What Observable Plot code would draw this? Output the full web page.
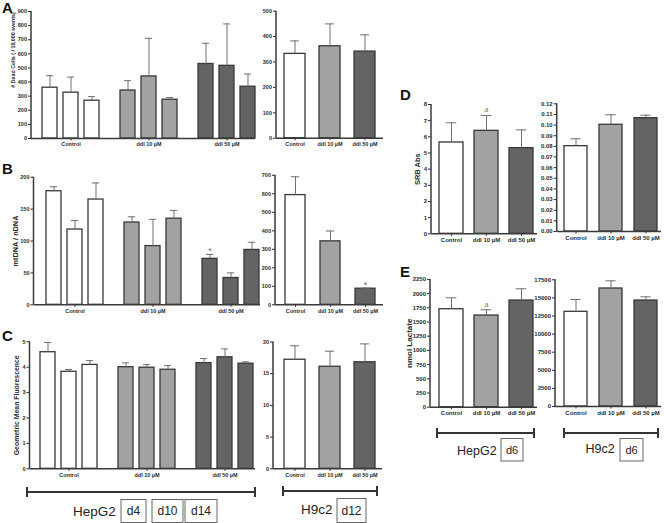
<!DOCTYPE html>
<html>
<head>
<meta charset="utf-8">
<script src="https://cdn.jsdelivr.net/npm/d3@7"></script>
<script src="https://cdn.jsdelivr.net/npm/@observablehq/plot@0.6"></script>
<style>
  html, body { margin: 0; padding: 0; background: #fff; }
  #fig { position: relative; width: 664px; height: 523px; overflow: hidden; background: #fff;
         font-family: "Liberation Sans", Arial, Helvetica, sans-serif; }
  .panel { position: absolute; }
  #deco { position: absolute; left: 0; top: 0; }
</style>
</head>
<body>
<div id="fig"></div>
<script>
// ---------- data ----------
const groups = ["Control", "ddI 10 µM", "ddI 50 µM"];
const hepg2Days = ["d4", "d10", "d14"];   // three bars per group in HepG2 (A–C)

// A: # dead cells (/10,000 events)
const deadHepG2Mean = [360, 325, 268, 340, 440, 275, 528, 515, 367];
const deadHepG2Sem  = [85, 110, 29, 70, 270, 15, 147, 297, 90];
const deadH9c2Mean  = [332, 362, 341];
const deadH9c2Sem   = [51, 88, 66];
const deadHepG2Ticks = [0, 100, 200, 300, 400, 500, 600, 700, 800, 900];
const deadH9c2Ticks  = [0, 100, 200, 300, 400, 500];

// B: mtDNA / nDNA
const mtHepG2Mean = [178, 118, 165, 129, 92, 135, 72, 42, 86];
const mtHepG2Sem  = [7, 14, 26, 9, 42, 13, 7, 8, 12];
const mtHepG2Sig  = ["", "", "", "", "", "", "*", "", ""];
const mtH9c2Mean  = [593, 343, 87];
const mtH9c2Sem   = [99, 56, 3];
const mtH9c2Sig   = ["", "", "*"];
const mtHepG2Ticks = [0, 50, 100, 150, 200];
const mtH9c2Ticks  = [0, 100, 200, 300, 400, 500, 600, 700];

// C: geometric mean fluorescence
const gmfHepG2Mean = [4.59, 3.82, 4.09, 4.00, 3.98, 3.90, 4.16, 4.39, 4.14];
const gmfHepG2Sem  = [0.38, 0.09, 0.17, 0.17, 0.12, 0.16, 0.18, 0.33, 0.07];
const gmfH9c2Mean  = [17.2, 16.1, 16.8];
const gmfH9c2Sem   = [2.2, 2.45, 2.9];
const gmfHepG2Ticks = [0, 1, 2, 3, 4, 5];
const gmfH9c2Ticks  = [0, 5, 10, 15, 20];

// D: SRB absorbance
const srbHepG2Mean = [5.65, 6.37, 5.30];
const srbHepG2Sem  = [1.22, 0.95, 1.13];
const srbHepG2Sig  = ["", "a", ""];
const srbH9c2Mean  = [0.0802, 0.1003, 0.1065];
const srbH9c2Sem   = [0.0069, 0.0094, 0.0028];
const srbHepG2Ticks = [0, 1, 2, 3, 4, 5, 6, 7, 8];
const srbH9c2Ticks  = [0, 0.01, 0.02, 0.03, 0.04, 0.05, 0.06, 0.07, 0.08, 0.09, 0.10, 0.11, 0.12];

// E: nmol lactate
const lacHepG2Mean = [1725, 1614, 1878];
const lacHepG2Sem  = [201, 101, 207];
const lacHepG2Sig  = ["", "a", ""];
const lacH9c2Mean  = [13080, 16300, 14640];
const lacH9c2Sem   = [1700, 1060, 510];
const lacHepG2Ticks = [0, 250, 500, 750, 1000, 1250, 1500, 1750, 2000, 2250];
const lacH9c2Ticks  = [0, 2500, 5000, 7500, 10000, 12500, 15000, 17500];

// ---------- drawing ----------
const FONT = "'Liberation Sans', Arial, Helvetica, sans-serif";
const fills = ["#ffffff", "#a2a2a2", "#646464"];
const fig = document.getElementById("fig");

function barPanel(p) {
  const reps = p.reps || 1;
  const rows = p.mean.map((m, i) => ({
    group: groups[Math.floor(i / reps)], rep: i % reps,
    mean: m, top: m + p.sem[i], sig: p.sig ? p.sig[i] : ""
  }));
  const repGap = p.repGap || 0;
  const gw = reps * p.barW + (reps - 1) * repGap;
  const gap = p.groupStep - gw;
  const span = p.rangeEnd - p.axisX;
  const leftover = span - (3 * gw + 2 * gap);
  const marginLeft = p.axisX - p.left;
  const marginRight = p.left + p.width - p.rangeEnd;
  const marginTop = p.yTop - p.top;
  const marginBottom = p.top + p.height - p.yBase;
  const pitch = p.barW + repGap;
  const fs = p.fs || 5.5;
  const marks = [
    Plot.axisY({ticks: p.ticks, tickSize: 3, tickPadding: 1.5, tickFormat: p.fmt || d3.format("d"), label: null, fontSize: fs}),
    Plot.axisX({tickSize: 2.5, tickPadding: 1.5, label: null, fontSize: fs})
  ];
  if (p.label) {
    marks.push(Plot.axisY({ticks: [], tickSize: 0, label: p.label, labelAnchor: "center",
      labelOffset: p.labelOffset, labelArrow: "none", fontSize: p.labelFs}));
  }
  for (let r = 0; r < reps; r++) {
    const sub = rows.filter(d => d.rep === r);
    const inL = r * pitch, inR = (reps - 1 - r) * pitch;
    const off = inL + p.barW / 2 - gw / 2;
    const capIn = (p.barW - p.capW) / 2;
    marks.push(
      Plot.barY(sub, {x: "group", y: "mean", fill: "group", stroke: "#383838", strokeWidth: 1.3,
        insetLeft: inL, insetRight: inR}),
      Plot.ruleX(sub, {x: "group", y1: "mean", y2: "top", dx: off, stroke: "#707070", strokeWidth: 1}),
      Plot.tickY(sub, {x: "group", y: "top", insetLeft: inL + capIn, insetRight: inR + capIn,
        stroke: "#707070", strokeWidth: 1}),
      Plot.text(sub.filter(d => d.sig === "*"), {x: "group", y: "top", text: "sig", dx: off, dy: -3,
        fontSize: 9, fill: "#666", fontWeight: "normal"}),
      Plot.text(sub.filter(d => d.sig === "a"), {x: "group", y: "top", text: "sig", dx: off, dy: -5.5,
        fontSize: 7, fill: "#777", fontStyle: "italic", fontWeight: "normal"})
    );
  }
  marks.push(Plot.ruleY([0], {stroke: "#3a3a3a", strokeWidth: 1.5}));

  const plot = Plot.plot({
    width: p.width, height: p.height,
    marginLeft, marginRight, marginTop, marginBottom,
    style: {background: "transparent", fontFamily: FONT, fontWeight: "bold", color: "#2a2a2a", overflow: "visible"},
    x: {domain: groups, paddingInner: gap / p.groupStep, paddingOuter: leftover / (2 * p.groupStep),
        align: (p.firstBar - p.axisX) / leftover},
    y: {domain: [0, p.yMax]},
    color: {domain: groups, range: fills},
    marks
  });
  const ys = plot.scale("y");
  d3.select(plot).append("line")
    .attr("x1", marginLeft).attr("x2", marginLeft)
    .attr("y1", ys.apply(0)).attr("y2", ys.apply(p.yMax))
    .attr("stroke", "#3a3a3a").attr("stroke-width", 1.5);
  const div = document.createElement("div");
  div.className = "panel";
  div.style.left = p.left + "px";
  div.style.top = p.top + "px";
  div.appendChild(plot);
  fig.appendChild(div);
}

// A
barPanel({left: 0, top: 0, width: 262, height: 152, axisX: 31, rangeEnd: 255, yBase: 138, yTop: 11,
  yMax: 900, ticks: deadHepG2Ticks, mean: deadHepG2Mean, sem: deadHepG2Sem, reps: 3,
  firstBar: 42, barW: 15, repGap: 6, groupStep: 78, capW: 7});
barPanel({left: 250, top: 0, width: 140, height: 152, axisX: 276, rangeEnd: 383, yBase: 137.7, yTop: 10.7,
  yMax: 500, ticks: deadH9c2Ticks, mean: deadH9c2Mean, sem: deadH9c2Sem,
  firstBar: 283, barW: 21, groupStep: 35.5, capW: 9});
// B
barPanel({left: 0, top: 165, width: 265, height: 152, axisX: 33.5, rangeEnd: 260, yBase: 304.3, yTop: 176.7,
  yMax: 200, ticks: mtHepG2Ticks, mean: mtHepG2Mean, sem: mtHepG2Sem, sig: mtHepG2Sig, reps: 3,
  firstBar: 45.5, barW: 14.5, repGap: 6.5, groupStep: 78, capW: 7,
  label: "mtDNA / nDNA", labelFs: 7.3, labelOffset: 21.5});
barPanel({left: 250, top: 165, width: 140, height: 152, axisX: 275, rangeEnd: 383, yBase: 304.3, yTop: 174.8,
  yMax: 700, ticks: mtH9c2Ticks, mean: mtH9c2Mean, sem: mtH9c2Sem, sig: mtH9c2Sig,
  firstBar: 284, barW: 20.5, groupStep: 35.5, capW: 9});
// C
barPanel({left: 0, top: 330, width: 262, height: 152, axisX: 29.5, rangeEnd: 255, yBase: 468.3, yTop: 341.3,
  yMax: 5, ticks: gmfHepG2Ticks, mean: gmfHepG2Mean, sem: gmfHepG2Sem, reps: 3,
  firstBar: 40, barW: 15, repGap: 6, groupStep: 78, capW: 7,
  label: "Geometric Mean Fluorescence", labelFs: 6.9, labelOffset: 16});
barPanel({left: 250, top: 330, width: 140, height: 152, axisX: 273, rangeEnd: 382, yBase: 468.3, yTop: 341.5,
  yMax: 20, ticks: gmfH9c2Ticks, mean: gmfH9c2Mean, sem: gmfH9c2Sem,
  firstBar: 283, barW: 21, groupStep: 35.5, capW: 9});
// D
barPanel({left: 395, top: 95, width: 150, height: 152, axisX: 431, rangeEnd: 537, yBase: 233.3, yTop: 104,
  yMax: 8, ticks: srbHepG2Ticks, mean: srbHepG2Mean, sem: srbHepG2Sem, sig: srbHepG2Sig,
  firstBar: 437.6, barW: 24.5, groupStep: 35.7, capW: 11, fs: 6,
  label: "SRB Abs", labelFs: 7.5, labelOffset: 17});
barPanel({left: 540, top: 95, width: 124, height: 152, axisX: 556.7, rangeEnd: 661, yBase: 231, yTop: 103.3,
  yMax: 0.12, ticks: srbH9c2Ticks, fmt: d3.format(".2f"), mean: srbH9c2Mean, sem: srbH9c2Sem,
  firstBar: 563, barW: 23.7, groupStep: 35.5, capW: 11, fs: 6});
// E
barPanel({left: 395, top: 270, width: 150, height: 152, axisX: 430, rangeEnd: 537, yBase: 406.7, yTop: 278.9,
  yMax: 2250, ticks: lacHepG2Ticks, mean: lacHepG2Mean, sem: lacHepG2Sem, sig: lacHepG2Sig,
  firstBar: 437.6, barW: 24.3, groupStep: 35.7, capW: 11, fs: 6,
  label: "nmol Lactate", labelFs: 8, labelOffset: 24.5});
barPanel({left: 540, top: 270, width: 124, height: 152, axisX: 555, rangeEnd: 661, yBase: 406, yTop: 279.3,
  yMax: 17500, ticks: lacH9c2Ticks, mean: lacH9c2Mean, sem: lacH9c2Sem,
  firstBar: 563, barW: 23.7, groupStep: 35.5, capW: 11, fs: 6});

// ---------- decorations: panel letters, A's y title, cell-line brackets, day boxes ----------
const NS = "http://www.w3.org/2000/svg";
const deco = document.createElementNS(NS, "svg");
deco.setAttribute("id", "deco");
deco.setAttribute("width", 664);
deco.setAttribute("height", 523);
fig.appendChild(deco);
function el(tag, attrs, txt) {
  const e = document.createElementNS(NS, tag);
  for (const k in attrs) e.setAttribute(k, attrs[k]);
  if (txt != null) e.textContent = txt;
  deco.appendChild(e);
  return e;
}
const panelLetters = [["A", 2, 13], ["B", 2, 174], ["C", 2, 341], ["D", 400, 100], ["E", 400, 277]];
for (const [t, x, y] of panelLetters)
  el("text", {x, y, "font-family": FONT, "font-size": 15, "font-weight": "bold", fill: "#111"}, t);

// y title of panel A (placed toward the top of its axis, as in the original)
el("text", {transform: "translate(14.5,50) rotate(-90)", "text-anchor": "middle", "font-family": FONT,
  "font-size": 5.3, "font-weight": "bold", fill: "#2a2a2a"}, "# Dead Cells ( / 10,000 events)");

function bracket(x1, x2, y) {
  el("line", {x1, x2, y1: y, y2: y, stroke: "#333", "stroke-width": 2});
  el("line", {x1, x2: x1, y1: y - 5, y2: y + 5, stroke: "#333", "stroke-width": 2});
  el("line", {x1: x2, x2, y1: y - 5, y2: y + 5, stroke: "#333", "stroke-width": 2});
}
function box(x, y, w, h, t, fsz) {
  el("rect", {x, y, width: w, height: h, fill: "none", stroke: "#666", "stroke-width": 1});
  el("text", {x: x + w / 2, y: y + h / 2 + fsz * 0.36, "text-anchor": "middle", "font-family": FONT,
    "font-size": fsz, fill: "#222"}, t);
}
function cellLabel(x, y, t, fsz) {
  el("text", {x, y, "font-family": FONT, "font-size": fsz, fill: "#222"}, t);
}
bracket(27, 255, 492);
cellLabel(73, 516, "HepG2", 13.5);
box(121, 499.5, 25, 23, hepg2Days[0], 12);
box(152, 499.5, 31, 23, hepg2Days[1], 12);
box(185, 499.5, 32, 23, hepg2Days[2], 12);
bracket(283, 377, 491);
cellLabel(301, 514, "H9c2", 13.5);
box(337, 498.5, 29, 24, "d12", 12);

bracket(437, 534, 433);
cellLabel(457, 455, "HepG2", 12.5);
box(501, 438.5, 22, 22.5, "d6", 11);
bracket(564, 658, 433);
cellLabel(585.5, 453, "H9c2", 12.5);
box(620, 438.5, 23, 22.5, "d6", 11);
</script>
</body>
</html>
